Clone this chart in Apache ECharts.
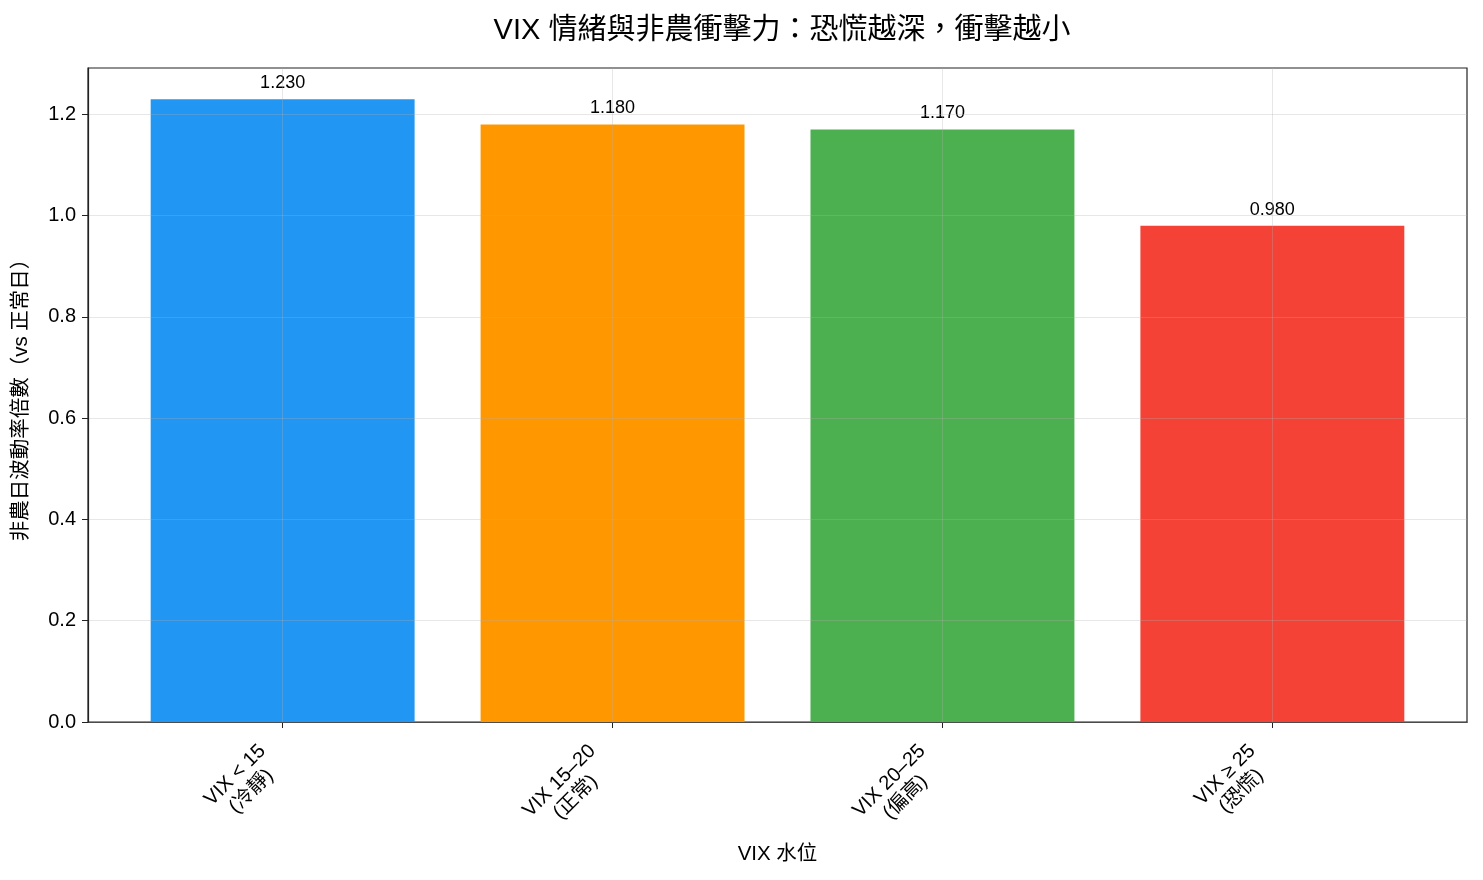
<!DOCTYPE html>
<html lang="zh-Hant">
<head>
    <meta charset="UTF-8">
    <title>vix nfp</title>
    <script src="https://cdn.jsdelivr.net/npm/echarts@6/dist/echarts.min.js"></script>
    <style>
        html, body { margin: 0; padding: 0; background: #fff; }
    </style>
</head>
<body>
<div id="main" style="width: 1483px;height:880px;"></div>
</body>

<script type="text/javascript">

    // 資料
    var categories = ['VIX < 15\n(冷靜)', 'VIX 15–20\n(正常)', 'VIX 20–25\n(偏高)', 'VIX ≥ 25\n(恐慌)'];
    var values = [1.23, 1.18, 1.17, 0.98];
    var yTicks = [0, 0.2, 0.4, 0.6, 0.8, 1.0, 1.2];
    var barColors = ['#2196F3', '#FF9800', '#4CAF50', '#F44336'];

    var FONT = '"Liberation Sans", "Noto Sans CJK TC", sans-serif';
    var xPad = 0.59;   // matplotlib 留白
    var gridLeft = 88, gridRight = 16;
    var plotW = 1483 - gridLeft - gridRight;
    var barW = 0.8 * plotW / (categories.length - 1 + 2 * xPad);
    var gridColor = 'rgba(176,176,176,0.3)';

    var myChart = echarts.init(document.getElementById('main'));

    var option = {
        backgroundColor: '#fff',
        animation: false,
        textStyle: {fontFamily: FONT},
        title: {
            text: 'VIX 情緒與非農衝擊力：恐慌越深，衝擊越小',
            left: 777,
            textAlign: 'center',
            top: 11,
            textStyle: {
                fontFamily: FONT,
                fontSize: 29,
                fontWeight: 'normal',
                color: '#000'
            }
        },
        grid: {
            left: gridLeft,
            right: gridRight,
            top: 68,
            bottom: 158,
            show: true,
            borderColor: '#222',
            borderWidth: 1.2
        },
        xAxis: {
            type: 'value',
            min: -xPad,
            max: categories.length - 1 + xPad,
            name: 'VIX 水位',
            nameLocation: 'middle',
            nameGap: 121,
            nameTextStyle: {fontFamily: FONT, fontSize: 20.5, color: '#000'},
            axisLine: {show: true, onZero: false, lineStyle: {color: '#222', width: 1.2}},
            axisTick: {
                show: true,
                length: 6,
                customValues: categories.map(function (c, i) { return i; }),
                lineStyle: {color: '#222'}
            },
            axisLabel: {
                customValues: categories.map(function (c, i) { return i; }),
                rotate: 45,
                margin: 22,
                padding: [0, 17, 0, 0],
                color: '#000',
                formatter: function (v) {
                    return categories[Math.round(v)].split('\n').map(function (s) {
                        return '{a|' + s + '}';
                    }).join('\n');
                },
                rich: {
                    a: {
                        fontFamily: FONT,
                        fontSize: 20,
                        lineHeight: 23,
                        align: 'center',
                        color: '#000'
                    }
                }
            },
            splitLine: {show: false}
        },
        yAxis: {
            type: 'value',
            min: 0,
            max: Math.max.apply(null, values) * 1.05,
            z: 3,
            name: '非農日波動率倍數（vs 正常日）',
            nameLocation: 'middle',
            nameGap: 56,
            nameTextStyle: {fontFamily: FONT, fontSize: 20.5, color: '#000'},
            axisLine: {show: true, onZero: false, lineStyle: {color: '#222', width: 1.2}},
            axisTick: {show: true, length: 6, customValues: yTicks, lineStyle: {color: '#222'}},
            axisLabel: {
                customValues: yTicks,
                margin: 12,
                fontFamily: FONT,
                fontSize: 20,
                color: '#000',
                formatter: function (v) { return v.toFixed(1); }
            },
            splitLine: {show: true, lineStyle: {color: gridColor, width: 1}}
        },
        series: [
            {
                type: 'bar',
                barWidth: barW,
                data: values.map(function (v, i) {
                    return {value: [i, v], itemStyle: {color: barColors[i]}};
                }),
                label: {
                    show: true,
                    position: 'top',
                    distance: 7,
                    fontFamily: FONT,
                    fontSize: 18,
                    color: '#000',
                    formatter: function (p) { return p.value[1].toFixed(3); }
                },
                markLine: {
                    silent: true,
                    symbol: 'none',
                    label: {show: false},
                    lineStyle: {color: gridColor, width: 1, type: 'solid'},
                    data: categories.map(function (c, i) { return {xAxis: i}; })
                }
            }
        ]
    };

    myChart.setOption(option);

</script>
</html>
